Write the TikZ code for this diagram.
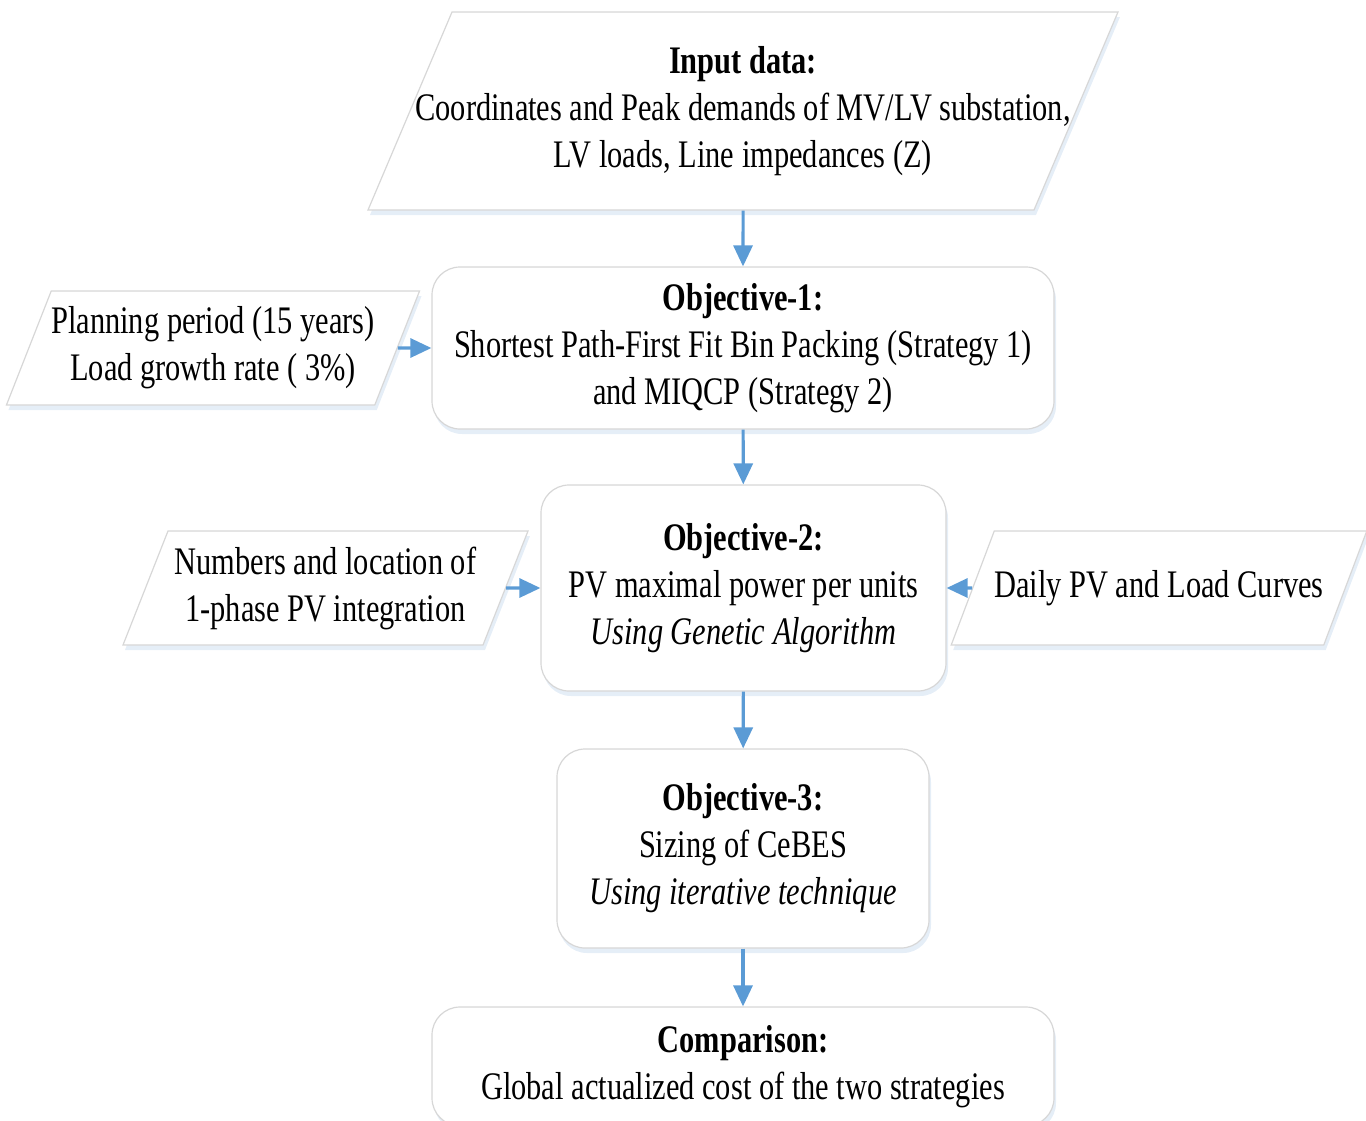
\documentclass[tikz,border=0pt]{standalone}
\usepackage{fontspec}
\setmainfont[FakeStretch=0.78]{Liberation Serif}
\usetikzlibrary{positioning,arrows.meta,shapes.geometric,shadows}
\definecolor{flowblue}{RGB}{91,155,213}
\definecolor{edgegray}{RGB}{215,215,215}
\definecolor{shadeblue}{RGB}{212,226,242}
\begin{document}
\begin{tikzpicture}[x=1pt,y=-1pt,
    font=\fontsize{39}{47}\selectfont,
    box/.style={rectangle, rounded corners=28pt, draw=edgegray, line width=1.2pt,
      fill=white, align=center, inner sep=0pt,
      drop shadow={shadow xshift=2pt, shadow yshift=-5pt, fill=shadeblue, opacity=0.6}},
    datain/.style={trapezium, trapezium left angle=#1, trapezium right angle=180-#1,
      trapezium stretches body, draw=edgegray, line width=1.2pt, fill=white,
      align=center, inner sep=0pt,
      drop shadow={shadow xshift=2pt, shadow yshift=-5pt, fill=shadeblue, opacity=0.6}},
    flow/.style={-{Triangle[length=21pt,width=19pt]}, draw=flowblue, line width=3.1pt}]
  \useasboundingbox (0,0) rectangle (1366,1120);
  % main column
  \node [datain=57, inner xsep=-50pt, minimum width=750pt, minimum height=198pt] (input) at (743,111)
    {\textbf{Input data:}\\Coordinates and Peak demands of MV/LV substation,\\LV loads, Line impedances (Z)};
  \node [box, minimum width=622pt, minimum height=162pt] (obj1) at (743,348)
    {\textbf{Objective-1:}\\Shortest Path-First Fit Bin Packing (Strategy 1)\\and MIQCP (Strategy 2)};
  \node [box, minimum width=405pt, minimum height=206pt] (obj2) at (743.5,588)
    {\textbf{Objective-2:}\\PV maximal power per units\\\textit{Using Genetic Algorithm}};
  \node [box, minimum width=372pt, minimum height=199pt] (obj3) at (743,848.5)
    {\textbf{Objective-3:}\\Sizing of CeBES\\\textit{Using iterative technique}};
  \node [box, minimum width=622pt, minimum height=119pt] (comp) at (743,1066.5)
    {\textbf{Comparison:}\\Global actualized cost of the two strategies};
  % side inputs
  \node [datain=61.5, minimum width=406pt, minimum height=114pt] (plan) at (213,348)
    {Planning period (15 years)\\Load growth rate ( 3\%)};
  \node [datain=61.5, minimum width=405pt, minimum height=114pt] (pvloc) at (325.5,588)
    {Numbers and location of\\1-phase PV integration};
  \node [datain=39.5, minimum width=406pt, minimum height=114pt] (curves) at (1159,588)
    {Daily PV and Load Curves};
  \draw [flow] (input) -- (obj1);
  \draw [flow] (obj1) -- (obj2);
  \draw [flow] (obj2) -- (obj3);
  \draw [flow] (obj3) -- (comp);
  \draw [flow] (plan) -- (obj1);
  \draw [flow] (pvloc) -- (obj2);
  \draw [flow] (curves) -- (obj2);
\end{tikzpicture}
\end{document}
